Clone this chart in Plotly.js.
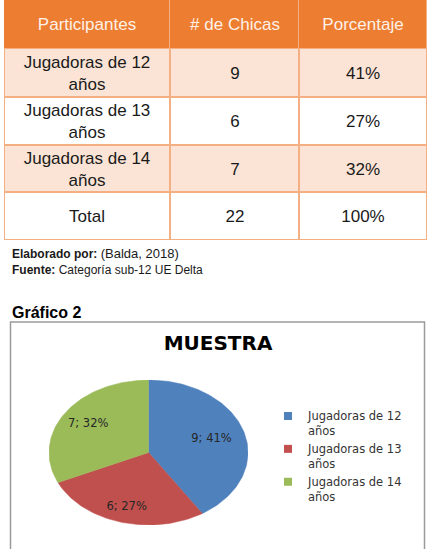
<!DOCTYPE html>
<html>
<head>
<meta charset="utf-8">
<script src="https://cdn.plot.ly/plotly-3.0.1.min.js"></script>
<style>
  html, body { margin: 0; padding: 0; background: #fff; }
  #chart { width: 435px; height: 549px; }
</style>
</head>
<body>
<div id="chart"></div>
<script>
// Girls in the sub-12 category, by age
const categories = ['Jugadoras de 12 años', 'Jugadoras de 13 años', 'Jugadoras de 14 años'];
const counts = [9, 6, 7];
const headerLabels = ['Participantes', '# de Chicas', 'Porcentaje'];
const totalLabel = 'Total';
const sliceColors = ['#4F81BD', '#C0504D', '#9BBB59'];

// Page geometry (px)
const W = 435, H = 549;
const colWidths = [166, 129, 128];
const headerHeight = 48;
const rowHeights = [49, 48, 47, 48];
// distance of each data label from the pie centre (fraction of radius)
const labelRadius = [0.66, 0.78, 0.72];

const total = counts.reduce((a, b) => a + b, 0);
const pct = counts.map(c => Math.round(100 * c / total));

// Break a category name before its last word
const wrap = s => { const i = s.lastIndexOf(' '); return s.slice(0, i) + '<br>' + s.slice(i + 1); };

// ---------- table (heatmap bricks on hidden axes) ----------
const xEdges = [0];
colWidths.forEach(w => xEdges.push(xEdges[xEdges.length - 1] + w));
const headEdges = [0, headerHeight];
const bodyEdges = [headerHeight];
rowHeights.forEach(h => bodyEdges.push(bodyEdges[bodyEdges.length - 1] + h));
const tableW = xEdges[xEdges.length - 1];
const tableH = bodyEdges[bodyEdges.length - 1];

const bodyText = categories.map((c, i) => [wrap(c), String(counts[i]), pct[i] + '%'])
  .concat([[totalLabel, String(total), Math.round(100 * total / total) + '%']]);
const bodyZ = bodyText.map((r, i) => r.map(() => (i % 2 === 0 && i < categories.length) ? 1 : 0));

const tableScale = [[0, '#FFFFFF'], [0.5, '#FBE4D5'], [1, '#ED7D31']];
const cellFont = { family: 'Liberation Sans, Arial, sans-serif', size: 17 };

const headTrace = {
  type: 'heatmap', xaxis: 'x2', yaxis: 'y2',
  x: xEdges, y: headEdges, z: [headerLabels.map(() => 2)],
  text: [headerLabels], texttemplate: '%{text}',
  textfont: Object.assign({ color: '#FDF1E8' }, cellFont),
  colorscale: tableScale, zmin: 0, zmax: 2, showscale: false,
  xgap: 1, ygap: 0, hoverinfo: 'skip'
};
const bodyTrace = {
  type: 'heatmap', xaxis: 'x2', yaxis: 'y2',
  x: xEdges, y: bodyEdges, z: bodyZ,
  text: bodyText, texttemplate: '%{text}',
  textfont: Object.assign({ color: '#1A1A1A' }, cellFont),
  colorscale: tableScale, zmin: 0, zmax: 2, showscale: false,
  xgap: 2, ygap: 2, hoverinfo: 'skip'
};

// ---------- pie drawn as filled sectors on stretched axes ----------
const pieTraces = [];
const labelX = [], labelY = [], labelText = [];
let cum = 0;
counts.forEach((c, i) => {
  const a0 = 2 * Math.PI * cum / total;
  cum += c;
  const a1 = 2 * Math.PI * cum / total;
  const n = Math.max(8, Math.ceil(240 * (a1 - a0) / (2 * Math.PI)));
  const xs = [0], ys = [0];
  for (let k = 0; k <= n; k++) {
    const t = a0 + (a1 - a0) * k / n;
    xs.push(Math.sin(t));
    ys.push(Math.cos(t));
  }
  xs.push(0); ys.push(0);
  pieTraces.push({
    type: 'scatter', mode: 'lines', x: xs, y: ys, fill: 'toself',
    fillcolor: sliceColors[i], line: { color: sliceColors[i], width: 0.5 },
    showlegend: false, hoverinfo: 'skip'
  });
  const mid = (a0 + a1) / 2, r = labelRadius[i];
  labelX.push(r * Math.sin(mid));
  labelY.push(r * Math.cos(mid));
  labelText.push(c + '; ' + pct[i] + '%');
});

const labelTrace = {
  type: 'scatter', mode: 'text', x: labelX, y: labelY, text: labelText,
  textfont: { family: 'DejaVu Sans, sans-serif', size: 11.5, color: '#262626' },
  showlegend: false, hoverinfo: 'skip'
};

const legendTraces = categories.map((c, i) => ({
  type: 'scatter', mode: 'markers', x: [null], y: [null], name: wrap(c),
  marker: { symbol: 'square', size: 8, color: sliceColors[i] },
  hoverinfo: 'skip'
}));

// pie ellipse box in page px
const pieL = 49, pieR = 248, pieT = 380, pieB = 525;

const layout = {
  width: W, height: H,
  margin: { l: 0, r: 0, t: 0, b: 0 },
  paper_bgcolor: '#FFFFFF', plot_bgcolor: 'rgba(0,0,0,0)',
  showlegend: true,
  title: {
    text: '<b>MUESTRA</b>',
    font: { family: 'DejaVu Sans, sans-serif', size: 20, color: '#000000' },
    x: 218 / W, y: (H - 343) / H, xanchor: 'center', yanchor: 'middle'
  },
  xaxis: { domain: [pieL / W, pieR / W], range: [-1, 1], visible: false, fixedrange: true },
  yaxis: { domain: [(H - pieB) / H, (H - pieT) / H], range: [-1, 1], visible: false, fixedrange: true },
  xaxis2: { domain: [4 / W, (4 + tableW) / W], range: [0, tableW], visible: false, fixedrange: true },
  yaxis2: { domain: [(H - tableH) / H, 1], range: [tableH, 0], visible: false, fixedrange: true },
  legend: {
    x: 268 / W, y: (H - 402) / H, xanchor: 'left', yanchor: 'top',
    bgcolor: 'rgba(0,0,0,0)', valign: 'top', tracegroupgap: 0,
    font: { family: 'DejaVu Sans, sans-serif', size: 11.5, color: '#333333' }
  },
  shapes: [
    // cell border colour showing through the brick gaps
    { type: 'rect', xref: 'x2', yref: 'y2', x0: 0, x1: tableW, y0: 0, y1: tableH,
      fillcolor: '#F4B083', line: { width: 0 }, layer: 'below' },
    // chart frame
    { type: 'rect', xref: 'paper', yref: 'paper', x0: 10.5 / W, x1: 424.5 / W,
      y0: -0.05, y1: (H - 322) / H, fillcolor: 'rgba(0,0,0,0)',
      line: { color: '#9A9A9A', width: 1.5 } }
  ],
  annotations: [
    { xref: 'paper', yref: 'paper', x: 10 / W, y: (H - 253) / H, xanchor: 'left', yanchor: 'middle',
      showarrow: false, align: 'left',
      text: "<b>Elaborado por:</b> <span style='font-size:13px'>(Balda, 2018)</span>",
      font: { family: 'Liberation Sans, Arial, sans-serif', size: 12, color: '#1A1A1A' } },
    { xref: 'paper', yref: 'paper', x: 10 / W, y: (H - 270) / H, xanchor: 'left', yanchor: 'middle',
      showarrow: false, align: 'left',
      text: '<b>Fuente:</b> Categoría sub-12 UE Delta',
      font: { family: 'Liberation Sans, Arial, sans-serif', size: 12, color: '#1A1A1A' } },
    { xref: 'paper', yref: 'paper', x: 10 / W, y: (H - 312) / H, xanchor: 'left', yanchor: 'middle',
      showarrow: false, align: 'left',
      text: '<b>Gráfico 2</b>',
      font: { family: 'Liberation Sans, Arial, sans-serif', size: 16, color: '#000000' } }
  ]
};

Plotly.newPlot('chart',
  [headTrace, bodyTrace].concat(pieTraces, [labelTrace], legendTraces),
  layout, { displayModeBar: false, staticPlot: true });
</script>
</body>
</html>
